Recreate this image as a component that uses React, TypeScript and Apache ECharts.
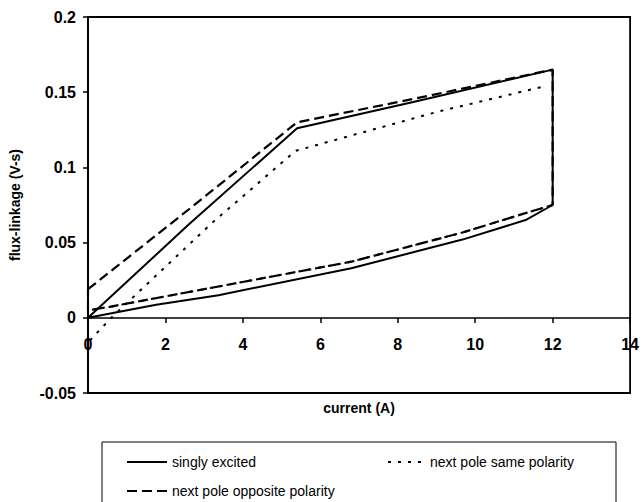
import React, { useEffect, useRef } from "react";
import * as echarts from "echarts";

const xTicks = [0, 2, 4, 6, 8, 10, 12, 14];
const yTicks = [-0.05, 0, 0.05, 0.1, 0.15, 0.2];

const seriesNames = ["singly excited", "next pole same polarity", "next pole opposite polarity"];

// singly excited (closed loop: rising branch, vertical drop, return branch)
const singlyExcited: [number, number][] = [
  [0, 0], [2.6, 0.062], [5.4, 0.126], [8.4, 0.1435], [12, 0.165],
  [12, 0.075], [11.3, 0.065], [9.67, 0.052], [6.8, 0.033], [3.37, 0.015], [1.76, 0.0087], [0, 0],
];

// next pole same polarity (rising branch, then return branch shared with opposite polarity)
const samePolarityUpper: [number, number][] = [
  [0.05, -0.015], [0.6, 0], [3.2, 0.063], [5.36, 0.111], [9.03, 0.137], [11.8, 0.154],
];
const samePolarityLower: [number, number][] = [
  [12, 0.075], [11.35, 0.07], [9.67, 0.0567], [6.8, 0.0373], [3.2, 0.02], [0.56, 0.0073], [0, 0.005],
];

// next pole opposite polarity
const oppositePolarity: [number, number][] = [
  [0, 0.019], [2.6, 0.072], [5.4, 0.13], [8.4, 0.1455], [12, 0.165],
  [12, 0.075], [11.35, 0.07], [9.67, 0.0567], [6.8, 0.0373], [3.2, 0.02], [0.56, 0.0073], [0, 0.005], [0, 0.019],
];

const FONT = "'Liberation Sans', Arial, sans-serif";

const legendBase = {
  padding: 0,
  itemHeight: 14,
  itemStyle: { opacity: 0 },
  textStyle: { fontFamily: FONT, fontSize: 14, color: "#000" },
};

export default function App() {
  const ref = useRef<HTMLDivElement>(null);
  useEffect(() => {
    if (!ref.current) return;
    const chart = echarts.init(ref.current, undefined, { renderer: "svg" });
    const dotted: any[] = [...samePolarityUpper, ["-", "-"], ...samePolarityLower];
    chart.setOption({
      animation: false,
      backgroundColor: "#fff",
      grid: {
        left: 88, top: 17, right: 5, bottom: 109,
        show: true, borderColor: "#000", borderWidth: 1.8,
      },
      xAxis: {
        type: "value",
        min: xTicks[0], max: xTicks[xTicks.length - 1], interval: 2,
        offset: -75,
        name: "current (A)",
        nameLocation: "middle",
        nameGap: 83,
        nameTextStyle: { fontFamily: FONT, fontWeight: "bold", fontSize: 14, color: "#000" },
        axisLine: { onZero: false, lineStyle: { color: "#000", width: 1.5 } },
        axisTick: { show: true, inside: false, length: 5, lineStyle: { color: "#000", width: 1.5 } },
        axisLabel: { margin: 18, fontFamily: FONT, fontWeight: "bold", fontSize: 16, color: "#000", showMaxLabel: true, showMinLabel: true },
        splitLine: { show: false },
      },
      yAxis: {
        type: "value",
        min: yTicks[0], max: yTicks[yTicks.length - 1], interval: 0.05,
        name: "flux-linkage (V-s)",
        nameLocation: "middle",
        nameGap: 66,
        nameTextStyle: { fontFamily: FONT, fontWeight: "bold", fontSize: 14, color: "#000" },
        axisLine: { onZero: false, lineStyle: { color: "#000", width: 2 } },
        axisTick: { show: true, length: 5, lineStyle: { color: "#000", width: 1.5 } },
        axisLabel: {
          margin: 12, fontFamily: FONT, fontWeight: "bold", fontSize: 16, color: "#000",
          formatter: (v: number) => String(+v.toFixed(2)),
        },
        splitLine: { show: false },
      },
      legend: [
        { ...legendBase, data: [seriesNames[0]], left: 126, top: 455, itemWidth: 40 },
        { ...legendBase, data: [seriesNames[1]], left: 387, top: 455, itemWidth: 37 },
        { ...legendBase, data: [seriesNames[2]], left: 126, top: 484, itemWidth: 40 },
      ],
      graphic: [
        {
          type: "rect",
          shape: { x: 102, y: 442, width: 514, height: 80 },
          style: { fill: "none", stroke: "#000", lineWidth: 1 },
          silent: true,
        },
      ],
      series: [
        {
          name: seriesNames[1], type: "line", data: dotted, symbol: "none", connectNulls: false,
          lineStyle: { color: "#000", width: 2, type: [3, 7] },
          itemStyle: { color: "#000" },
        },
        {
          name: seriesNames[2], type: "line", data: oppositePolarity, symbol: "none",
          lineStyle: { color: "#000", width: 2.2, type: [10, 5] },
          itemStyle: { color: "#000" },
        },
        {
          name: seriesNames[0], type: "line", data: singlyExcited, symbol: "none",
          lineStyle: { color: "#000", width: 2, type: "solid" },
          itemStyle: { color: "#000" },
        },
      ],
    });
    return () => chart.dispose();
  }, []);
  return <div ref={ref} style={{ width: 642, height: 502, position: "absolute", left: 0, top: 0 }} />;
}
